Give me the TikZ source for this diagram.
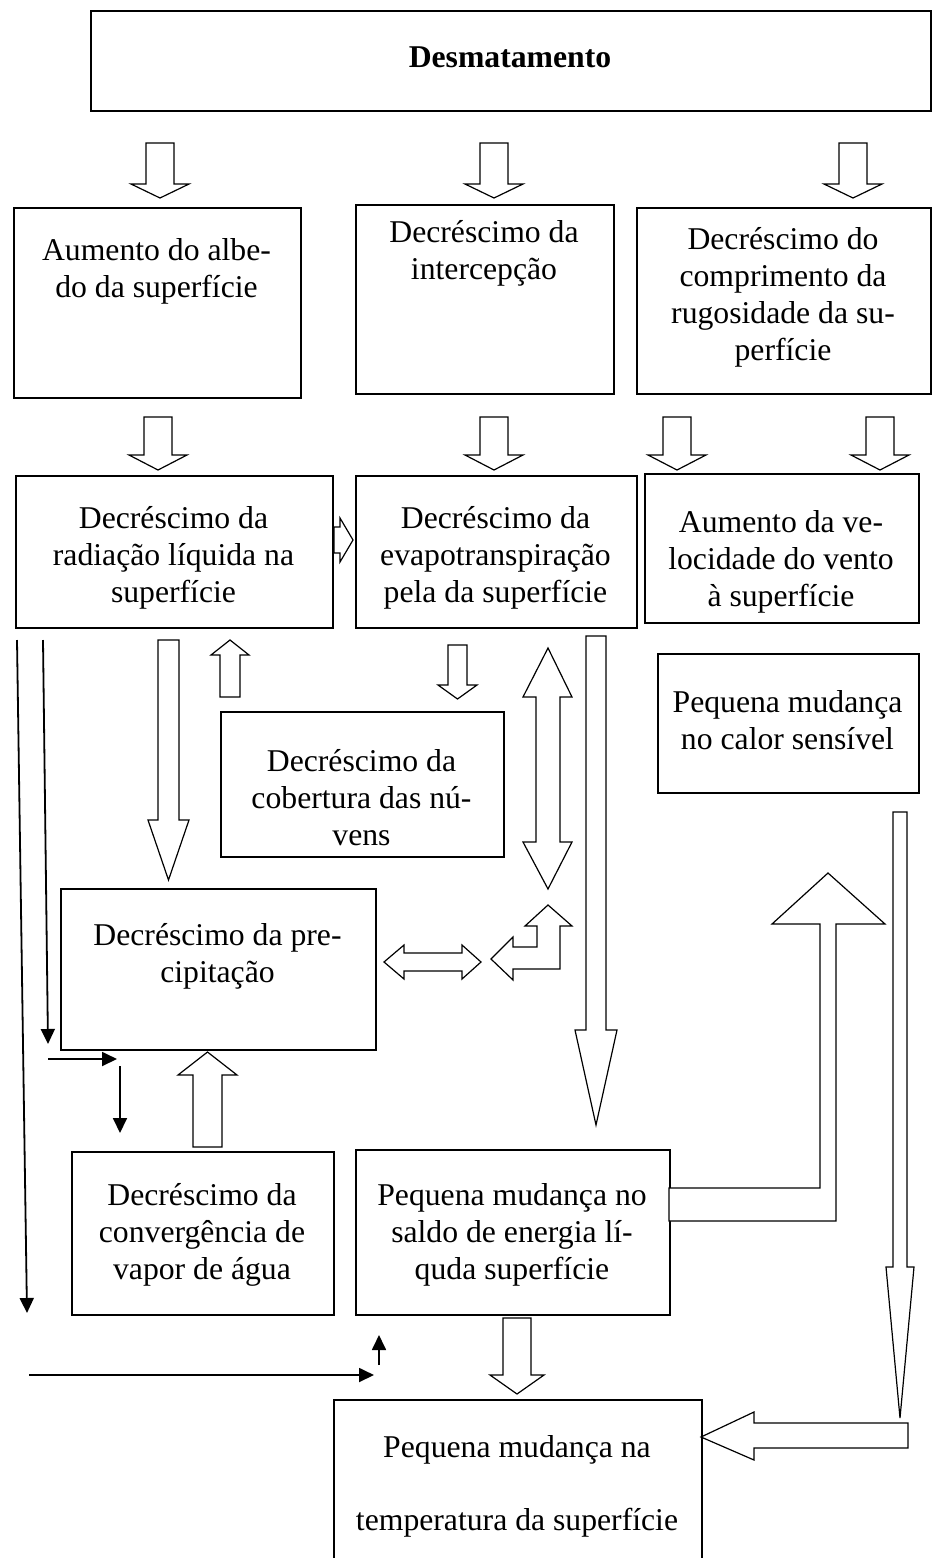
\documentclass[tikz,border=0pt]{standalone}
\usepackage{fontspec}
\setmainfont{Liberation Serif}
\usetikzlibrary{arrows.meta}
\newcommand\BlkV[6]{\draw[blk] ({#1-#5},-#2) -- ({#1+#5},-#2) -- ({#1+#5},-#3) -- ({#1+#6},-#3) -- (#1,-#4) -- ({#1-#6},-#3) -- ({#1-#5},-#3) -- cycle;}
\newcommand\BlkH[6]{\draw[blk] (#2,{-#1+#5}) -- (#2,{-#1-#5}) -- (#3,{-#1-#5}) -- (#3,{-#1-#6}) -- (#4,-#1) -- (#3,{-#1+#6}) -- (#3,{-#1+#5}) -- cycle;}
\tikzset{
  box/.style={draw, line width=1.5pt, rectangle, anchor=north west, inner sep=0pt},
  txt/.style={align=center, inner sep=0pt, font=\fontsize{31.7}{37}\selectfont},
  blk/.style={draw, line width=1.2pt, fill=white, line join=miter},
  thin/.style={line width=1.8pt, -{Triangle[length=15pt,width=14pt]}},
}
\begin{document}
\begin{tikzpicture}[x=1pt,y=1pt]
\useasboundingbox (0,0) rectangle (934,-1558);
\begin{scope}
\clip (0,0) rectangle (934,-1558);
% boxes
\node[box, minimum width=840pt, minimum height=100pt] (top) at (90,-10) {};
\node[txt, font=\fontsize{31.7}{37}\selectfont\bfseries] (topt) at (510,-57) {Desmatamento};

\node[box, minimum width=287pt, minimum height=190pt] (A) at (13,-207) {};
\node[txt] (At) at (156.5,-271) {Aumento do albe-\\do da superfície};
\node[box, minimum width=258pt, minimum height=189pt] (B) at (355,-204) {};
\node[txt] (Bt) at (484,-253) {Decréscimo da\\intercepção};
\node[box, minimum width=294pt, minimum height=186pt] (C) at (636,-207) {};
\node[txt] (Ct) at (783,-297) {Decréscimo do\\comprimento da\\rugosidade da su-\\perfície};

\node[box, minimum width=317pt, minimum height=152pt] (D) at (15,-475) {};
\node[txt] (Dt) at (173.5,-558) {Decréscimo da\\radiação líquida na\\superfície};
\node[box, minimum width=281pt, minimum height=152pt] (E) at (355,-475) {};
\node[txt] (Et) at (495.5,-558) {Decréscimo da\\evapotranspiração\\pela da superfície};
\node[box, minimum width=274pt, minimum height=149pt] (F) at (644,-473) {};
\node[txt] (Ft) at (781,-562) {Aumento da ve-\\locidade do vento\\à superfície};

\node[box, minimum width=261pt, minimum height=139pt] (K) at (657,-653) {};
\node[txt] (Kt) at (787.5,-720) {Pequena mudança\\no calor sensível};
\node[box, minimum width=283pt, minimum height=145pt] (G) at (220,-711) {};
\node[txt] (Gt) at (361.5,-798) {Decréscimo da\\cobertura das nú-\\vens};
\node[box, minimum width=315pt, minimum height=161pt] (H) at (60,-888) {};
\node[txt] (Ht) at (217.5,-956) {Decréscimo da pre-\\cipitação};
\node[box, minimum width=262pt, minimum height=163pt] (I) at (71,-1151) {};
\node[txt] (It) at (202,-1235) {Decréscimo da\\convergência de\\vapor de água};
\node[box, minimum width=314pt, minimum height=165pt] (J) at (355,-1149) {};
\node[txt] (Jt) at (512,-1235) {Pequena mudança no\\saldo de energia lí-\\quda superfície};
\node[box, minimum width=368pt, minimum height=200pt] (L) at (333,-1399) {};
\node[txt, font=\fontsize{31.7}{73}\selectfont] (Lt) at (517,-1486) {Pequena mudança na\\temperatura da superfície};
\end{scope}

% block arrows: top level
\BlkV{160}{143}{184}{198}{14}{29}
\BlkV{494}{143}{184}{198}{14}{29}
\BlkV{853}{143}{184}{198}{14}{29}
% second level
\BlkV{158}{417}{455}{470}{14}{29}
\BlkV{494}{417}{455}{470}{14}{29}
\BlkV{677}{417}{455}{470}{14}{29}
\BlkV{880}{417}{455}{470}{14}{29}
% D -> E
\BlkH{540}{334}{340}{353}{13}{22}
% D -> H long
\BlkV{168.5}{640}{820}{880}{10.5}{20.5}
% G -> D small up
\BlkV{230}{697}{655}{640}{10}{19}
% E -> G
\BlkV{457.5}{645}{685}{699}{9.5}{19.5}
% vertical double arrow
\draw[blk] (548,-648) -- (572,-697) -- (560,-697) -- (560,-842) -- (572,-842) -- (548,-889) -- (523,-842) -- (536,-842) -- (536,-697) -- (523,-697) -- cycle;
% horizontal double arrow
\draw[blk] (384,-962) -- (404,-945) -- (404,-953) -- (462,-953) -- (462,-945) -- (481,-962) -- (462,-979) -- (462,-971) -- (404,-971) -- (404,-979) -- cycle;
% elbow arrow
\draw[blk] (548,-905) -- (572,-926) -- (560,-926) -- (560,-969) -- (513,-969) -- (513,-980) -- (491,-959) -- (513,-937) -- (513,-947) -- (537,-947) -- (537,-926) -- (525,-926) -- cycle;
% long down from E
\BlkV{596}{636}{1030}{1125}{10}{21}
% I -> H
\BlkV{207.5}{1147}{1075}{1052}{14.5}{29.5}
% J -> L
\BlkV{517}{1318}{1375}{1394}{14}{27}
% J elbow up
\draw[blk] (669,-1221) -- (836,-1221) -- (836,-924) -- (885,-924) -- (828,-873) -- (772,-924) -- (820,-924) -- (820,-1188) -- (669,-1188) -- cycle;
% K long down
\BlkV{900}{812}{1267}{1418}{7}{14}
% elbow into L
\draw[blk] (908,-1423) -- (908,-1448) -- (754,-1448) -- (754,-1460) -- (701,-1437) -- (754,-1412) -- (754,-1423) -- cycle;

% thin arrows
\coordinate (a1) at (17,-640); \coordinate (a1e) at (27,-1313);
\coordinate (a2) at (43,-640); \coordinate (a2e) at (48,-1044);
\coordinate (a3) at (48,-1059); \coordinate (a3e) at (117,-1059);
\coordinate (a4) at (120,-1066); \coordinate (a4e) at (120,-1133);
\coordinate (a5) at (29,-1375); \coordinate (a5e) at (374,-1375);
\coordinate (a6) at (379,-1365); \coordinate (a6e) at (379,-1335);
\draw[thin] (a1) -- (a1e);
\draw[thin] (a2) -- (a2e);
\draw[thin] (a3) -- (a3e);
\draw[thin] (a4) -- (a4e);
\draw[thin] (a5) -- (a5e);
\draw[thin] (a6) -- (a6e);
\end{tikzpicture}
\end{document}
